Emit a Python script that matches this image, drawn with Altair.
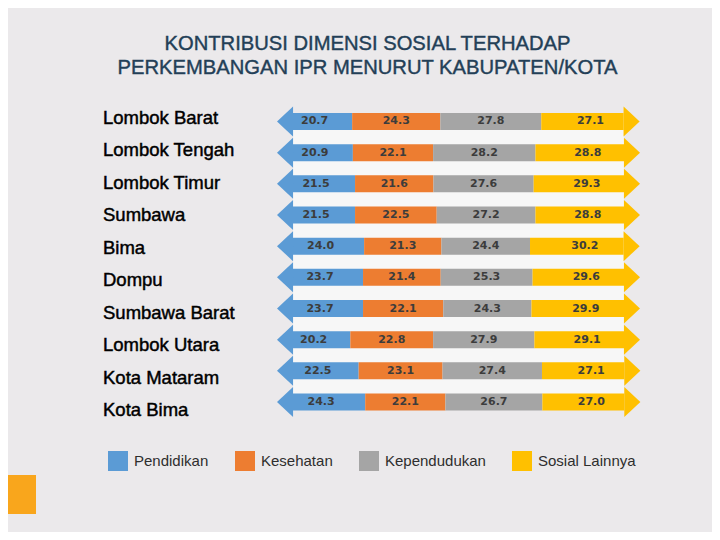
import altair as alt
import pandas as pd

# ---- data ----
regions = ["Lombok Barat", "Lombok Tengah", "Lombok Timur", "Sumbawa", "Bima",
           "Dompu", "Sumbawa Barat", "Lombok Utara", "Kota Mataram", "Kota Bima"]
categories = ["Pendidikan", "Kesehatan", "Kependudukan", "Sosial Lainnya"]
pendidikan = [20.7, 20.9, 21.5, 21.5, 24.0, 23.7, 23.7, 20.2, 22.5, 24.3]
kesehatan = [24.3, 22.1, 21.6, 22.5, 21.3, 21.4, 22.1, 22.8, 23.1, 22.1]
kependudukan = [27.8, 28.2, 27.6, 27.2, 24.4, 25.3, 24.3, 27.9, 27.4, 26.7]
sosial_lainnya = [27.1, 28.8, 29.3, 28.8, 30.2, 29.6, 29.9, 29.1, 27.1, 27.0]
colors = ["#5B9BD5", "#ED7D31", "#A5A5A5", "#FFC000"]
title_lines = ["KONTRIBUSI DIMENSI SOSIAL TERHADAP",
               "PERKEMBANGAN IPR MENURUT KABUPATEN/KOTA"]

series = [pendidikan, kesehatan, kependudukan, sosial_lainnya]
rows = []
for i, reg in enumerate(regions):
    start = 0.0
    for cat, vals in zip(categories, series):
        v = vals[i]
        rows.append({"region": reg, "category": cat, "value": v,
                     "start": start, "end": start + v, "mid": start + v / 2})
        start += v
df = pd.DataFrame(rows)

W, H = 704, 524
x_scale = alt.Scale(domain=[0, 100], range=[269, 632], nice=False, zero=False)
y_bar = alt.Y("region:N", sort=regions, axis=None,
              scale=alt.Scale(domain=regions, range=[97.9, 409.6],
                              paddingInner=0, paddingOuter=0))
legend = alt.Legend(title=None, orient="none", legendX=100, legendY=443,
                    direction="horizontal", symbolType="square", symbolSize=400,
                    symbolOpacity=1, symbolStrokeWidth=0, columnPadding=26,
                    labelOffset=6, labelFont="Liberation Sans", labelFontSize=15,
                    labelColor="#2E2E2E", padding=0, labelLimit=300)
color = alt.Color("category:N", sort=categories,
                  scale=alt.Scale(domain=categories, range=colors), legend=legend)

base = alt.Chart(df)

band = alt.Chart(alt.Data(values=[{}])).mark_rect(
    color="#F7F7F7", xOffset=16, x2Offset=-16).encode(
    x=alt.X(datum=0, scale=x_scale, axis=None), x2=alt.datum(100),
    y=alt.value(105), y2=alt.value(402))

blue = base.transform_filter(alt.datum.category == "Pendidikan").mark_bar(
    size=17, xOffset=16).encode(
    x=alt.X("start:Q", scale=x_scale, axis=None), x2="end:Q", y=y_bar, color=color)
middle = base.transform_filter(
    (alt.datum.category == "Kesehatan") | (alt.datum.category == "Kependudukan")
).mark_bar(size=17).encode(
    x=alt.X("start:Q", scale=x_scale, axis=None), x2="end:Q", y=y_bar, color=color)
yellow = base.transform_filter(alt.datum.category == "Sosial Lainnya").mark_bar(
    size=17, x2Offset=-16).encode(
    x=alt.X("start:Q", scale=x_scale, axis=None), x2="end:Q", y=y_bar, color=color)

left_head = base.transform_filter(alt.datum.category == "Pendidikan").mark_point(
    shape="M 0 0 L 1.07 -1 L 1.07 1 Z", size=900, filled=True, opacity=1,
    strokeWidth=0).encode(
    x=alt.X("start:Q", scale=x_scale, axis=None), y=y_bar, color=color)
right_head = base.transform_filter(alt.datum.category == "Sosial Lainnya").mark_point(
    shape="M 0 0 L -1.07 -1 L -1.07 1 Z", size=900, filled=True, opacity=1,
    strokeWidth=0).encode(
    x=alt.X("end:Q", scale=x_scale, axis=None), y=y_bar, color=color)

values = base.mark_text(font="DejaVu Sans", fontWeight="bold", fontSize=11,
                        color="#3C3C3C").encode(
    x=alt.X("mid:Q", scale=x_scale, axis=None), y=y_bar,
    text=alt.Text("value:Q", format=".1f"))

labels = alt.Chart(pd.DataFrame({"region": regions})).mark_text(
    align="left", font="Liberation Sans", fontSize=18.5, color="#000000",
    stroke="#000000", strokeWidth=0.45).encode(
    x=alt.value(95),
    y=alt.Y("region:N", sort=regions, axis=None,
            scale=alt.Scale(domain=regions, range=[93.8, 418.2],
                            paddingInner=0, paddingOuter=0)),
    text="region:N")

title = alt.Chart(pd.DataFrame({"line": title_lines})).mark_text(
    align="center", font="Liberation Sans", fontSize=20.2, color="#233F57",
    stroke="#233F57", strokeWidth=0.4).encode(
    x=alt.value(359.5),
    y=alt.Y("line:N", sort=title_lines, axis=None,
            scale=alt.Scale(domain=title_lines, range=[24, 72],
                            paddingInner=0, paddingOuter=0)),
    text="line:N")

corner = alt.Chart(alt.Data(values=[{}])).mark_rect(color="#F9A61C").encode(
    x=alt.value(0), x2=alt.value(28), y=alt.value(467), y2=alt.value(506))

chart = alt.layer(
    band, blue, middle, yellow, left_head, right_head, values, labels, title, corner
).resolve_scale(y="independent").properties(
    width=W, height=H, padding=0, autosize=alt.AutoSizeParams(type="none"),
    background="#EBE9EB"
).configure_view(stroke=None)

chart.save("out.html", embed_options={"renderer": "svg", "actions": False})
